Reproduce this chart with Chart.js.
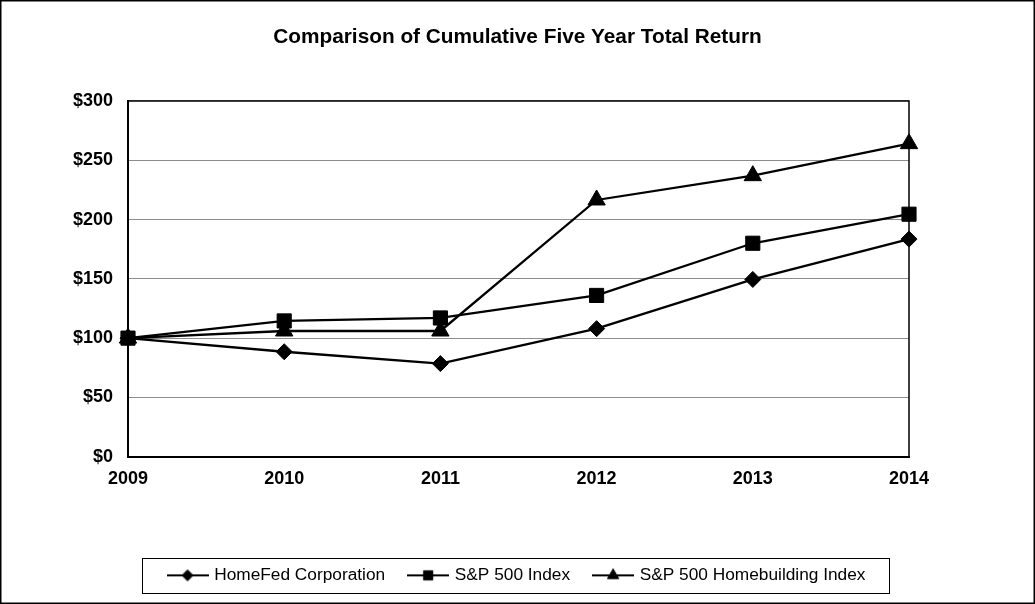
<!DOCTYPE html>
<html>
<head>
<meta charset="utf-8">
<script src="https://cdn.jsdelivr.net/npm/chart.js@4"></script>
<style>
html, body { margin: 0; background: #fff; }
</style>
</head>
<body>
<canvas id="myChart" width="1035" height="604"></canvas>
<script>
// values
const years = ['2009', '2010', '2011', '2012', '2013', '2014'];
const homeFed = [100, 88.5, 78.5, 108, 149.5, 183.5];
const sp500 = [100, 114.5, 117, 136, 180, 204.5];
const homebuilding = [100, 106, 106, 216.5, 237, 264];
const seriesNames = ['HomeFed Corporation', 'S&P 500 Index', 'S&P 500 Homebuilding Index'];
const yMin = 0, yMax = 300, yStep = 50;

Chart.defaults.font.family = 'Arial, "Liberation Sans", sans-serif';
Chart.defaults.color = '#000';

// little line + marker pictures for the legend
function legendIcon(style, r) {
  const c = document.createElement('canvas');
  c.width = 42; c.height = 20;
  const ctx = c.getContext('2d');
  ctx.strokeStyle = '#000';
  ctx.fillStyle = '#000';
  ctx.lineWidth = 2;
  ctx.beginPath(); ctx.moveTo(0, 10); ctx.lineTo(42, 10); ctx.stroke();
  ctx.lineWidth = 1;
  Chart.helpers.drawPoint(ctx, {pointStyle: style, radius: r, borderWidth: 1, rotation: 0}, 21, 10);
  return c;
}
const icons = [legendIcon('rectRot', 5.5), legendIcon('rect', 6.5), legendIcon('triangle', 6.5)];

const frames = {
  id: 'frames',
  beforeDatasetsDraw(chart) {
    const a = chart.chartArea, ctx = chart.ctx;
    ctx.save();
    ctx.strokeStyle = '#000';
    ctx.lineWidth = 1.5;
    ctx.beginPath();
    ctx.moveTo(a.left, a.top); ctx.lineTo(a.right, a.top); ctx.lineTo(a.right, a.bottom);
    ctx.stroke();
    ctx.restore();
  },
  afterDraw(chart) {
    const ctx = chart.ctx;
    ctx.save();
    ctx.strokeStyle = '#000';
    ctx.lineWidth = 1.5;
    ctx.strokeRect(0.75, 0.75, chart.width - 1.5, chart.height - 1.5);
    const boxes = chart.legend.legendHitBoxes;
    if (boxes && boxes.length) {
      const l = Math.min(...boxes.map(b => b.left)) - 28;
      const r = Math.max(...boxes.map(b => b.left + b.width)) + 23;
      const cy = boxes[0].top + boxes[0].height / 2;
      ctx.lineWidth = 1;
      ctx.strokeRect(Math.round(l) + 0.5, Math.round(cy - 17.5) + 0.5, Math.round(r - l), 35);
    }
    ctx.restore();
  }
};

var mychart = new Chart('myChart', {
  type: 'line',
  data: {
    labels: years,
    datasets: [{
      label: seriesNames[0],
      data: homeFed,
      borderColor: '#000', backgroundColor: '#000',
      borderWidth: 2.3, pointStyle: 'rectRot', pointRadius: 8,
      pointBorderWidth: 1, clip: false
    }, {
      label: seriesNames[1],
      data: sp500,
      borderColor: '#000', backgroundColor: '#000',
      borderWidth: 2.3, pointStyle: 'rect', pointRadius: 10,
      pointBorderWidth: 1, clip: false
    }, {
      label: seriesNames[2],
      data: homebuilding,
      borderColor: '#000', backgroundColor: '#000',
      borderWidth: 2.3, pointStyle: 'triangle', pointRadius: 10,
      pointBorderWidth: 1, clip: false
    }]
  },
  options: {
    responsive: false,
    animation: false,
    layout: { padding: { left: 0, right: 0, top: 0, bottom: 10 } },
    plugins: {
      tooltip: { enabled: false },
      title: {
        display: true,
        text: 'Comparison of Cumulative Five Year Total Return',
        color: '#000',
        font: { size: 20.8, weight: 'bold' },
        padding: { top: 25, bottom: 51 }
      },
      legend: {
        position: 'bottom',
        labels: {
          usePointStyle: true,
          pointStyleWidth: 36,
          padding: 25,
          color: '#000',
          font: { size: 17.3 },
          generateLabels: chart => chart.data.datasets.map((ds, i) => ({
            text: ds.label, pointStyle: icons[i], datasetIndex: i,
            fillStyle: '#000', strokeStyle: '#000', lineWidth: 0, hidden: false, fontColor: '#000'
          }))
        }
      }
    },
    scales: {
      x: {
        type: 'category',
        offset: false,
        grid: { display: false, drawTicks: false },
        border: { display: true, color: '#000', width: 2 },
        ticks: { font: { size: 18, weight: 'bold' }, color: '#000', padding: 12, maxRotation: 0 },
        afterFit: s => { s.height = 85; }
      },
      y: {
        min: yMin, max: yMax,
        grid: { color: '#8c8c8c', lineWidth: 1, drawTicks: false },
        border: { display: true, color: '#000', width: 2 },
        ticks: {
          stepSize: yStep,
          font: { size: 18, weight: 'bold' }, color: '#000', padding: 15,
          callback: v => '$' + v
        },
        afterFit: s => { s.width = 128; }
      },
      yRight: {
        position: 'right',
        min: yMin, max: yMax,
        grid: { display: false, drawTicks: false },
        border: { display: false },
        ticks: { display: false },
        afterFit: s => { s.width = 126; }
      }
    }
  },
  plugins: [frames]
});
</script>
</body>
</html>
